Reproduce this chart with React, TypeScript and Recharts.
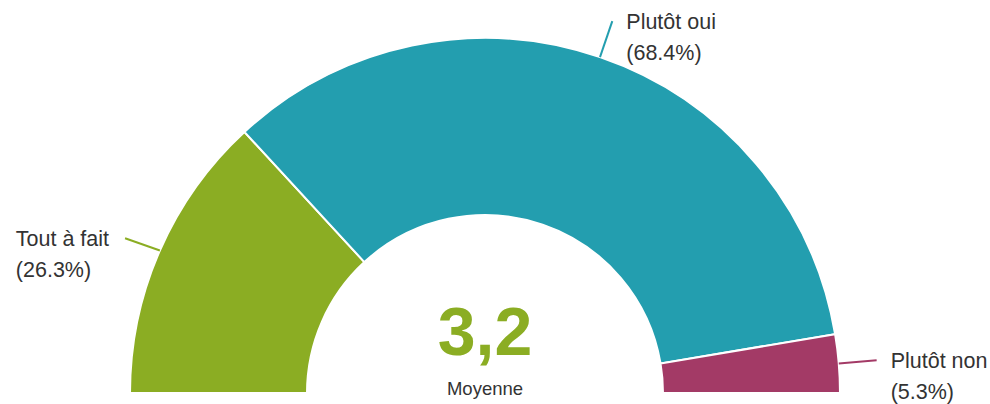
import { Pie, PieChart, Cell } from "recharts";

const categories = ["Tout à fait", "Plutôt oui", "Plutôt non"];
const shares = [26.3, 68.4, 5.3];
const colors = ["#8BAD23", "#239EAF", "#A33A66"];
const average = "3,2";
const averageLabel = "Moyenne";

const data = categories.map((name, i) => ({ name, value: shares[i] }));

const RAD = Math.PI / 180;
const FONT = "'Liberation Sans', Arial, sans-serif";
const LABEL_SIZE = 21.5;

// width of a text in the label font, so a left-side label block can be left-aligned
let ctx: CanvasRenderingContext2D | null = null;
const measure = (s: string) => {
	if (!ctx) ctx = document.createElement("canvas").getContext("2d");
	if (!ctx) return s.length * LABEL_SIZE * 0.5;
	ctx.font = `${LABEL_SIZE}px ${FONT}`;
	return ctx.measureText(s).width;
};

const renderLabel = (props: any) => {
	const { cx, cy, midAngle, outerRadius, index, name, value } = props;
	const cos = Math.cos(-midAngle * RAD);
	const sin = Math.sin(-midAngle * RAD);
	const sx = cx + outerRadius * cos;
	const sy = cy + outerRadius * sin;
	const ex = cx + (outerRadius + 38) * cos;
	const ey = cy + (outerRadius + 38) * sin + (cos < 0 ? 3 : 0);
	const right = cos >= 0;
	const pct = `(${value.toFixed(1)}%)`;
	const boxW = Math.max(measure(name), measure(pct));
	const tx = right ? ex + 14 : ex - 16 - boxW;
	const style = { fontSize: `${LABEL_SIZE}px`, fontFamily: FONT };
	return (
		<g>
			<path
				d={`M${sx},${sy}L${ex},${ey}`}
				stroke={colors[index]}
				strokeWidth={2}
				fill="none"
			/>
			<text x={tx} y={ey} dy="0.35em" fill="#333" style={style}>
				{name}
			</text>
			<text x={tx} y={ey + 31} dy="0.35em" fill="#333" style={style}>
				{pct}
			</text>
		</g>
	);
};

export default function App() {
	return (
		<div style={{ position: "absolute", left: 0, top: 0, background: "#fff" }}>
			<PieChart
				width={990}
				height={404}
				margin={{ top: 0, right: 0, bottom: 0, left: 0 }}
			>
				<Pie
					data={data}
					dataKey="value"
					nameKey="name"
					cx={485}
					cy={393}
					startAngle={180}
					endAngle={0}
					innerRadius={178}
					outerRadius={355}
					stroke="#fff"
					strokeWidth={2}
					label={renderLabel}
					labelLine={false}
					isAnimationActive={false}
				>
					{data.map((d, i) => (
						<Cell key={d.name} fill={colors[i]} />
					))}
				</Pie>
				<text
					x={485}
					y={355}
					textAnchor="middle"
					fill="#8BAD23"
					style={{ fontSize: "68px", fontWeight: "bold", fontFamily: FONT }}
				>
					{average}
				</text>
				<text
					x={485}
					y={395}
					textAnchor="middle"
					fill="#333"
					style={{ fontSize: "18.5px", fontFamily: FONT }}
				>
					{averageLabel}
				</text>
			</PieChart>
		</div>
	);
}
